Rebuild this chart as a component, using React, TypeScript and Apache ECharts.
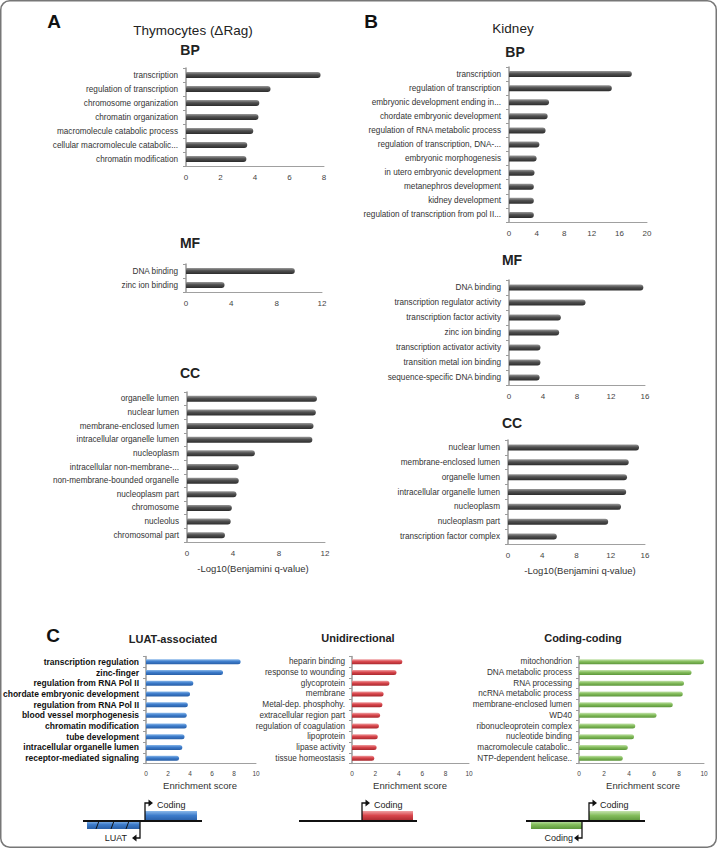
import React, { useEffect, useRef } from "react";
import * as echarts from "echarts";

// ---------- DATA ----------
const aBpCats = ["transcription", "regulation of transcription", "chromosome organization", "chromatin organization", "macromolecule catabolic process", "cellular macromolecule catabolic...", "chromatin modification"];
const aBpVals = [7.8, 4.9, 4.25, 4.2, 3.9, 3.55, 3.5];

const aMfCats = ["DNA binding", "zinc ion binding"];
const aMfVals = [9.6, 3.4];

const aCcCats = ["organelle lumen", "nuclear lumen", "membrane-enclosed lumen", "intracellular organelle lumen", "nucleoplasm", "intracellular non-membrane-...", "non-membrane-bounded organelle", "nucleoplasm part", "chromosome", "nucleolus", "chromosomal part"];
const aCcVals = [11.3, 11.2, 11.0, 10.9, 5.9, 4.5, 4.5, 4.3, 3.9, 3.8, 3.3];

const bBpCats = ["transcription", "regulation of transcription", "embryonic development ending in...", "chordate embryonic development", "regulation of RNA metabolic process", "regulation of transcription, DNA-...", "embryonic morphogenesis", "in utero embryonic development", "metanephros development", "kidney development", "regulation of transcription from pol II..."];
const bBpVals = [17.8, 14.9, 5.8, 5.6, 5.3, 4.4, 4.0, 3.7, 3.6, 3.6, 3.6];

const bMfCats = ["DNA binding", "transcription regulator activity", "transcription factor activity", "zinc ion binding", "transcription activator activity", "transition metal ion binding", "sequence-specific DNA binding"];
const bMfVals = [15.8, 9.0, 6.1, 5.9, 3.7, 3.7, 3.6];

const bCcCats = ["nuclear lumen", "membrane-enclosed lumen", "organelle lumen", "intracellular organelle lumen", "nucleoplasm", "nucleoplasm part", "transcription factor complex"];
const bCcVals = [15.3, 14.1, 13.9, 13.8, 13.2, 11.7, 5.7];

const luatCats = ["transcription regulation", "zinc-finger", "regulation from RNA Pol II", "chordate embryonic development", "regulation from RNA Pol II", "blood vessel morphogenesis", "chromatin modification", "tube development", "intracellular organelle lumen", "receptor-mediated signaling"];
const luatVals = [8.6, 7.0, 4.3, 4.0, 3.8, 3.7, 3.7, 3.5, 3.3, 3.0];

const uniCats = ["heparin binding", "response to wounding", "glycoprotein", "membrane", "Metal-dep. phosphohy.", "extracellular region part", "regulation of coagulation", "lipoprotein", "lipase activity", "tissue homeostasis"];
const uniVals = [4.3, 3.8, 3.2, 2.7, 2.6, 2.4, 2.3, 2.2, 2.1, 1.9];

const ccCats = ["mitochondrion", "DNA metabolic process", "RNA processing", "ncRNA metabolic process", "membrane-enclosed lumen", "WD40", "ribonucleoprotein complex", "nucleotide binding", "macromolecule catabolic..", "NTP-dependent helicase.."];
const ccVals = [10.2, 9.0, 8.4, 8.3, 7.5, 6.2, 4.5, 4.4, 3.9, 3.5];

// ---------- STYLE / LAYOUT ----------
const FONT = "Liberation Sans, Arial, Helvetica, sans-serif";
const NARROW = "Liberation Sans Narrow, Arial Narrow, Liberation Sans, sans-serif";

const palettes: Record<string, [string, string, string]> = {
  gray: ["#9a9a9a", "#505050", "#2c2c2c"],
  blue: ["#8ab8ea", "#3d7ccb", "#285ea6"],
  red: ["#f0a0a2", "#d8464c", "#a8282d"],
  green: ["#c5e3ad", "#84bd5c", "#5c953a"],
};

type Panel = {
  cats: string[];
  vals: number[];
  left: number;
  top: number;
  width: number;
  height: number;
  max: number;
  interval: number;
  kind: string;
  small?: boolean;
  bold?: boolean;
};

const panels: Panel[] = [
  { cats: aBpCats, vals: aBpVals, left: 186, top: 68, width: 138, height: 98, max: 8, interval: 2, kind: "gray" },
  { cats: aMfCats, vals: aMfVals, left: 186, top: 264, width: 136, height: 28, max: 12, interval: 4, kind: "gray" },
  { cats: aCcCats, vals: aCcVals, left: 187, top: 392, width: 138, height: 150, max: 12, interval: 4, kind: "gray" },
  { cats: bBpCats, vals: bBpVals, left: 509, top: 67, width: 138, height: 155, max: 20, interval: 4, kind: "gray" },
  { cats: bMfCats, vals: bMfVals, left: 509, top: 280, width: 136, height: 105, max: 16, interval: 4, kind: "gray" },
  { cats: bCcCats, vals: bCcVals, left: 508, top: 440, width: 137, height: 104, max: 16, interval: 4, kind: "gray" },
  { cats: luatCats, vals: luatVals, left: 139, top: 656.5, width: 117, height: 107, max: 10, interval: 2, kind: "blue", small: true, bold: true },
  { cats: uniCats, vals: uniVals, left: 352, top: 656.5, width: 117, height: 107, max: 10, interval: 2, kind: "red", small: true },
  { cats: ccCats, vals: ccVals, left: 579, top: 656.5, width: 125, height: 107, max: 10, interval: 2, kind: "green", small: true },
];

const grad = (kind: string) => {
  const p = palettes[kind];
  return new echarts.graphic.LinearGradient(0, 0, 0, 1, [
    { offset: 0, color: p[0] },
    { offset: 0.45, color: p[1] },
    { offset: 1, color: p[2] },
  ]);
};

const txt = (x: number, y: number, text: string, size: number, weight: string = "normal", align: string = "center", color: string = "#222", family: string = FONT) => ({
  type: "text",
  x,
  y,
  silent: true,
  style: { text, fontSize: size, fontWeight: weight, fontFamily: family, fill: color, align, verticalAlign: "middle", textAlign: align, textVerticalAlign: "middle" },
});

const ln = (x1: number, y1: number, x2: number, y2: number, w: number = 1.6, c: string = "#111") => ({
  type: "line",
  silent: true,
  shape: { x1, y1, x2, y2 },
  style: { stroke: c, lineWidth: w },
});

const box = (x: number, y: number, w: number, h: number, kind: string) => ({
  type: "rect",
  silent: true,
  shape: { x, y, width: w, height: h },
  style: { fill: grad(kind) },
});

const arrowUpRight = (x: number, yBase: number, yTop: number) => [
  { type: "polyline", silent: true, shape: { points: [[x, yBase], [x, yTop], [x + 4, yTop]] }, style: { stroke: "#111", lineWidth: 1.3, fill: "none" } },
  { type: "polygon", silent: true, shape: { points: [[x + 3.5, yTop - 3.5], [x + 8, yTop], [x + 3.5, yTop + 3.5]] }, style: { fill: "#111" } },
];
const arrowDownLeft = (x: number, yBase: number, yBot: number) => [
  { type: "polyline", silent: true, shape: { points: [[x, yBase], [x, yBot], [x - 4, yBot]] }, style: { stroke: "#111", lineWidth: 1.3, fill: "none" } },
  { type: "polygon", silent: true, shape: { points: [[x - 3.5, yBot - 3.5], [x - 8, yBot], [x - 3.5, yBot + 3.5]] }, style: { fill: "#111" } },
];

export default function App() {
  const ref = useRef<HTMLDivElement>(null);
  useEffect(() => {
    document.body.style.margin = "0";
    if (!ref.current) return;
    const chart = echarts.init(ref.current, undefined, { renderer: "svg" });

    const graphics: any[] = [
      { type: "rect", silent: true, shape: { x: 0.75, y: 0.75, width: 715.5, height: 846.5, r: 9 }, style: { fill: "none", stroke: "#777", lineWidth: 1.5 } },
      txt(54, 21, "A", 19, "bold", "center", "#111"),
      txt(193, 30, "Thymocytes (\u0394Rag)", 13.5),
      txt(190, 50, "BP", 14, "bold"),
      txt(190, 243, "MF", 14, "bold"),
      txt(190, 373, "CC", 14, "bold"),
      txt(253, 568, "-Log10(Benjamini q-value)", 9.5, "normal", "center", "#333"),
      txt(371, 21, "B", 19, "bold", "center", "#111"),
      txt(513, 28, "Kidney", 13.5),
      txt(515, 52, "BP", 14, "bold"),
      txt(512, 260, "MF", 14, "bold"),
      txt(512, 423, "CC", 14, "bold"),
      txt(580, 570, "-Log10(Benjamini q-value)", 9.5, "normal", "center", "#333"),
      txt(53, 635, "C", 19, "bold", "center", "#111"),
      txt(173, 639, "LUAT-associated", 11, "bold"),
      txt(358, 638, "Unidirectional", 11, "bold"),
      txt(583, 638, "Coding-coding", 11, "bold"),
      txt(200, 785, "Enrichment score", 9.5, "normal", "center", "#333"),
      txt(410, 785, "Enrichment score", 9.5, "normal", "center", "#333"),
      txt(643, 785, "Enrichment score", 9.5, "normal", "center", "#333"),
      // LUAT diagram
      box(145, 811, 52, 10, "blue"),
      box(87, 821, 53, 8, "blue"),
      ln(96, 829, 99, 821, 1),
      ln(111, 829, 114, 821, 1),
      ln(126, 829, 129, 821, 1),
      ln(83, 821, 202, 821, 1.8),
      ...arrowUpRight(145, 821, 803),
      ...arrowDownLeft(140, 821, 838),
      txt(157, 805, "Coding", 9, "normal", "left", "#222"),
      txt(127, 838, "LUAT", 9, "normal", "right", "#222"),
      // Unidirectional diagram
      box(362, 811, 51, 10, "red"),
      ln(299, 821, 417, 821, 1.8),
      ...arrowUpRight(362, 821, 803),
      txt(374, 805, "Coding", 9, "normal", "left", "#222"),
      // Coding-coding diagram
      box(589, 811, 51, 10, "green"),
      box(531, 821, 51, 8, "green"),
      ln(526, 821, 645, 821, 1.8),
      ...arrowUpRight(589, 821, 803),
      ...arrowDownLeft(582, 821, 838),
      txt(600, 805, "Coding", 9, "normal", "left", "#222"),
      txt(573, 838, "Coding", 9, "normal", "right", "#222"),
    ];

    const option: any = {
      animation: false,
      backgroundColor: "#ffffff",
      textStyle: { fontFamily: FONT },
      grid: panels.map((p) => ({ left: p.left, top: p.top, width: p.width, height: p.height, containLabel: false })),
      xAxis: panels.map((p, i) => ({
        type: "value",
        gridIndex: i,
        min: 0,
        max: p.max,
        interval: p.interval,
        axisLine: { show: true, lineStyle: { color: "#a0a0a0", width: 1 } },
        axisTick: { show: false },
        splitLine: { show: false },
        axisLabel: { fontSize: p.small ? 6.5 : 8, color: "#444", margin: p.small ? 6 : 7, fontFamily: FONT },
      })),
      yAxis: panels.map((p, i) => ({
        type: "category",
        gridIndex: i,
        data: p.cats,
        inverse: true,
        axisLine: { show: true, lineStyle: { color: "#9a9a9a", width: 1.5 } },
        axisTick: { show: true, length: 3, lineStyle: { color: "#9a9a9a" } },
        splitLine: { show: false },
        axisLabel: {
          fontSize: p.bold ? 8.5 : 8.2,
          fontWeight: p.bold ? "bold" : "normal",
          fontFamily: p.bold ? NARROW : FONT,
          color: p.bold ? "#111" : "#333",
          margin: p.small ? 7 : 8,
          interval: 0,
        },
      })),
      series: panels.map((p, i) => ({
        type: "bar",
        xAxisIndex: i,
        yAxisIndex: i,
        data: p.vals,
        barWidth: p.small ? 5 : 6,
        itemStyle: { color: grad(p.kind), borderRadius: [0, 3, 3, 0] },
        silent: true,
      })),
      graphic: graphics,
    };
    chart.setOption(option);
    return () => chart.dispose();
  }, []);
  return <div ref={ref} style={{ width: 717, height: 848 }} />;
}
